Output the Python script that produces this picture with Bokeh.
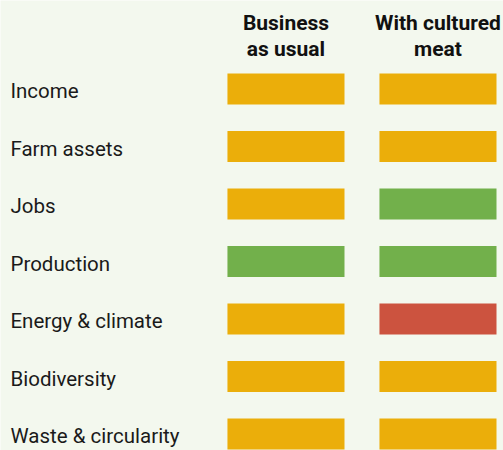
from bokeh.plotting import figure
from bokeh.models import Range1d, ColumnDataSource
from bokeh.transform import factor_cmap
from bokeh.core.properties import value
from bokeh.embed import file_html
from bokeh.resources import INLINE

# ---- data ----
rows = ["Income", "Farm assets", "Jobs", "Production",
        "Energy & climate", "Biodiversity", "Waste & circularity"]
columns = ["Business\nas usual", "With cultured\nmeat"]
business_as_usual = ["neutral", "neutral", "neutral", "positive",
                     "neutral", "neutral", "neutral"]
with_cultured_meat = ["neutral", "neutral", "positive", "positive",
                      "negative", "neutral", "neutral"]
ratings = ["positive", "neutral", "negative"]
palette = ["#72b04b", "#ebae0a", "#cc533f"]

BG = "#f3f8ee"

xs, ys, rs = [], [], []
for j, series in enumerate([business_as_usual, with_cultured_meat]):
    for i, r in enumerate(series):
        xs.append(j)
        ys.append(i)
        rs.append(r)
cells = ColumnDataSource(dict(x=xs, y=ys, rating=rs))

p = figure(width=503, height=450, output_backend="svg", toolbar_location=None,
           x_range=Range1d(-1.878, 1.431), y_range=Range1d(6.287, -1.539),
           min_border=0, min_border_left=0, min_border_right=0,
           min_border_top=0, min_border_bottom=0)
p.outline_line_color = None
p.background_fill_color = BG
p.border_fill_color = BG
p.xaxis.visible = False
p.yaxis.visible = False
p.xgrid.visible = False
p.ygrid.visible = False

p.rect(x="x", y="y", width=0.77, height=0.54, source=cells,
       fill_color=factor_cmap("rating", palette, ratings), line_color=None)

# row labels
label_x = -1.8125
labels = ColumnDataSource(dict(x=[label_x] * len(rows), y=list(range(len(rows))), text=rows))
p.text(x="x", y="y", text="text", source=labels, text_font=value("Roboto"),
       text_font_size="20.5px", text_color="#1a1a1a", text_align="left",
       text_baseline="middle", y_offset=2.5)

# column headers
line1 = [c.split("\n")[0] for c in columns]
line2 = [c.split("\n")[1] for c in columns]
hx = list(range(len(columns)))
p.text(x=hx, y=[-1.035] * len(columns), text=line1, text_font=value("Roboto"),
       text_font_size="21px", text_font_style="bold", text_color="#111111",
       text_align="center", text_baseline="alphabetic", y_offset=-6)
p.text(x=hx, y=[-0.583] * len(columns), text=line2, text_font=value("Roboto"),
       text_font_size="21px", text_font_style="bold", text_color="#111111",
       text_align="center", text_baseline="alphabetic", y_offset=-6)

html = file_html(p, INLINE)
html = html.replace("<body>", '<body style="margin:0;background:%s;overflow:hidden">' % BG, 1)
open("out.html", "w").write(html)
